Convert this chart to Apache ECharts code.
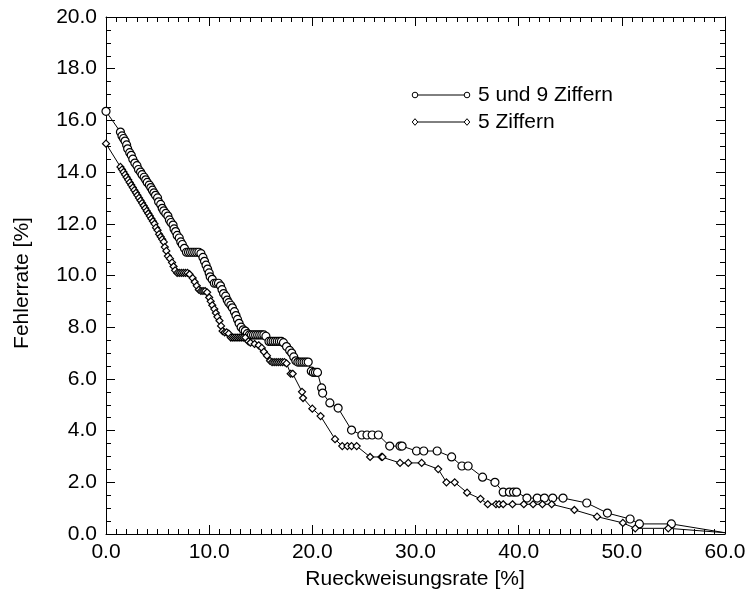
<!DOCTYPE html>
<html>
<head>
<meta charset="utf-8">
<script src="https://cdn.jsdelivr.net/npm/echarts@6/dist/echarts.min.js"></script>
<style>
  html, body { margin: 0; padding: 0; background: #fff; }
  #chart { width: 749px; height: 598px; }
</style>
</head>
<body>
<div id="chart"></div>
<script>
// Rejection rate (x, %) and error rate (y, %) for the two recognisers
const rejectA = [0.0, 1.4, 1.55, 1.7, 1.85, 2.0, 2.1, 2.3, 2.45, 2.6, 2.8, 3.0, 3.15, 3.35, 3.5, 3.7, 3.85, 4.0, 4.2, 4.35, 4.5, 4.65, 4.8, 5.0, 5.1, 5.3, 5.45, 5.6, 5.8, 6.0, 6.15, 6.3, 6.5, 6.6, 6.75, 6.9, 7.1, 7.25, 7.4, 7.6, 7.8, 8.0, 8.2, 8.4, 8.6, 8.8, 9.0, 9.2, 9.4, 9.55, 9.7, 9.85, 10.0, 10.1, 10.3, 10.5, 10.7, 10.9, 11.1, 11.25, 11.4, 11.6, 11.75, 11.9, 12.1, 12.25, 12.45, 12.6, 12.75, 12.9, 13.1, 13.3, 13.5, 13.7, 13.9, 14.1, 14.3, 14.5, 14.7, 14.9, 15.1, 15.3, 15.5, 15.8, 16.0, 16.2, 16.4, 16.6, 16.8, 17.0, 17.2, 17.5, 17.8, 18.0, 18.2, 18.4, 18.6, 18.8, 19.0, 19.2, 19.4, 19.6, 19.9, 20.1, 20.3, 20.5, 20.9, 21.0, 21.7, 22.5, 23.8, 24.8, 25.3, 25.8, 26.4, 27.5, 28.5, 28.7, 30.1, 30.8, 32.1, 33.5, 34.5, 35.1, 36.5, 37.7, 38.5, 39.1, 39.5, 39.8, 40.8, 41.8, 42.5, 43.3, 44.3, 46.6, 48.6, 50.8, 51.7, 54.8, 60.0];
const errorA  = [16.35, 15.55, 15.4, 15.3, 15.2, 15.05, 14.9, 14.75, 14.65, 14.5, 14.35, 14.25, 14.1, 14.0, 13.9, 13.8, 13.7, 13.6, 13.5, 13.4, 13.3, 13.2, 13.1, 13.0, 12.85, 12.75, 12.6, 12.5, 12.4, 12.3, 12.15, 12.05, 11.95, 11.8, 11.7, 11.55, 11.45, 11.3, 11.2, 11.05, 10.9, 10.9, 10.9, 10.9, 10.9, 10.9, 10.9, 10.85, 10.7, 10.55, 10.4, 10.25, 10.1, 9.95, 9.85, 9.7, 9.7, 9.7, 9.6, 9.45, 9.3, 9.2, 9.05, 8.95, 8.85, 8.75, 8.6, 8.45, 8.3, 8.15, 8.0, 7.9, 7.85, 7.75, 7.7, 7.7, 7.7, 7.7, 7.7, 7.7, 7.7, 7.7, 7.65, 7.45, 7.45, 7.45, 7.45, 7.45, 7.45, 7.45, 7.4, 7.25, 7.1, 7.0, 6.85, 6.7, 6.65, 6.65, 6.65, 6.65, 6.65, 6.65, 6.3, 6.25, 6.25, 6.25, 5.65, 5.45, 5.07, 4.87, 4.02, 3.83, 3.83, 3.83, 3.83, 3.4, 3.4, 3.4, 3.21, 3.21, 3.21, 2.98, 2.63, 2.63, 2.2, 2.0, 1.62, 1.62, 1.62, 1.62, 1.39, 1.39, 1.39, 1.39, 1.39, 1.2, 0.81, 0.58, 0.39, 0.39, 0.05];

const rejectB = [0.0, 1.4, 1.55, 1.7, 1.85, 2.0, 2.15, 2.3, 2.45, 2.6, 2.75, 2.9, 3.05, 3.2, 3.35, 3.5, 3.65, 3.8, 3.95, 4.1, 4.25, 4.4, 4.55, 4.7, 4.85, 5.0, 5.15, 5.3, 5.45, 5.6, 5.7, 5.85, 6.0, 6.2, 6.4, 6.55, 6.7, 6.9, 7.1, 7.3, 7.5, 7.7, 7.9, 8.1, 8.4, 8.6, 8.8, 9.0, 9.2, 9.4, 9.6, 9.8, 10.0, 10.15, 10.3, 10.5, 10.65, 10.8, 11.0, 11.15, 11.3, 11.5, 11.7, 11.9, 12.1, 12.3, 12.5, 12.7, 12.9, 13.1, 13.3, 13.5, 13.8, 14.0, 14.4, 14.8, 15.1, 15.3, 15.6, 15.9, 16.1, 16.3, 16.5, 16.7, 16.9, 17.1, 17.3, 17.5, 17.9, 18.1, 19.0, 19.1, 20.0, 20.8, 22.2, 22.9, 23.4, 23.8, 24.3, 25.6, 26.7, 26.8, 28.5, 29.3, 30.6, 32.2, 33.0, 33.8, 35.0, 36.3, 37.0, 37.8, 38.1, 38.5, 39.4, 40.5, 41.4, 42.3, 43.2, 45.4, 47.6, 50.1, 51.3, 54.5, 60.0];
const errorB  = [15.1, 14.2, 14.1, 14.0, 13.9, 13.8, 13.7, 13.6, 13.5, 13.4, 13.3, 13.2, 13.1, 13.0, 12.9, 12.8, 12.7, 12.6, 12.5, 12.4, 12.3, 12.2, 12.1, 12.0, 11.85, 11.75, 11.6, 11.5, 11.4, 11.3, 11.1, 10.95, 10.75, 10.65, 10.5, 10.35, 10.2, 10.1, 10.1, 10.1, 10.1, 10.1, 10.1, 10.05, 9.9, 9.75, 9.6, 9.45, 9.4, 9.4, 9.4, 9.35, 9.15, 9.0, 8.85, 8.7, 8.55, 8.4, 8.25, 8.05, 7.85, 7.8, 7.8, 7.75, 7.6, 7.6, 7.6, 7.6, 7.6, 7.6, 7.6, 7.6, 7.45, 7.4, 7.35, 7.3, 7.2, 7.05, 6.9, 6.7, 6.65, 6.65, 6.65, 6.65, 6.65, 6.65, 6.65, 6.6, 6.2, 6.2, 5.5, 5.26, 4.85, 4.56, 3.67, 3.4, 3.4, 3.4, 3.4, 2.98, 2.98, 2.98, 2.75, 2.75, 2.75, 2.51, 2.0, 2.0, 1.6, 1.36, 1.15, 1.15, 1.15, 1.15, 1.15, 1.15, 1.15, 1.15, 1.15, 0.93, 0.67, 0.43, 0.22, 0.22, 0.05];

const seriesNames = ['5 und 9 Ziffern', '5 Ziffern'];
const xTitle = 'Rueckweisungsrate [%]';
const yTitle = 'Fehlerrate [%]';

const FONT = '"Liberation Sans", Arial, Helvetica, sans-serif';

// Points become [x, y]; the closing point sits on the frame corner and carries no marker
function pairs(xs, ys) {
  return xs.map((x, i) => {
    if (i === xs.length - 1) return { value: [x, ys[i]], symbol: 'none' };
    return [x, ys[i]];
  });
}

const chart = echarts.init(document.getElementById('chart'), null, { renderer: 'canvas' });

const baseAxis = {
  type: 'value',
  axisLine: { show: true, onZero: false, lineStyle: { color: '#000', width: 1 } },
  axisTick: { show: true, inside: true, length: 9, lineStyle: { color: '#000', width: 1 } },
  minorTick: { show: true, length: 5, lineStyle: { color: '#000', width: 1 } },
  splitLine: { show: false },
  minorSplitLine: { show: false }
};

const xMain = Object.assign({}, baseAxis, {
  min: 0, max: 60, interval: 10, position: 'bottom',
  minorTick: Object.assign({}, baseAxis.minorTick, { splitNumber: 10 }),
  axisLabel: { show: true, margin: 8, color: '#000', fontSize: 21, fontFamily: FONT,
               formatter: v => v.toFixed(1) }
});
const xTop = Object.assign({}, xMain, { position: 'top', axisLabel: { show: false } });

const yMain = Object.assign({}, baseAxis, {
  min: 0, max: 20, interval: 2, position: 'left',
  minorTick: Object.assign({}, baseAxis.minorTick, { splitNumber: 4 }),
  axisLabel: { show: true, margin: 9, color: '#000', fontSize: 21, fontFamily: FONT,
               formatter: v => v.toFixed(1) }
});
const yRight = Object.assign({}, yMain, { position: 'right', axisLabel: { show: false } });

function lineSeries(name, data, symbol, size) {
  return {
    name, type: 'line', data,
    xAxisIndex: 0, yAxisIndex: 0,
    symbol, symbolSize: size, showAllSymbol: true,
    itemStyle: { color: '#fff', borderColor: '#000', borderWidth: 1.2 },
    lineStyle: { color: '#000', width: 1 },
    emphasis: { disabled: true },
    z: 3
  };
}

// Key drawn by hand: a short line with a marker at each end, then the label
const keyX0 = 415, keyX1 = 467, keyRows = [95, 122];
function diamondAt(cx, cy, w, h) {
  return [[cx, cy - h], [cx + w, cy], [cx, cy + h], [cx - w, cy]];
}
const keyGraphics = [];
keyRows.forEach((ky, i) => {
  keyGraphics.push({ type: 'line', shape: { x1: keyX0, y1: ky, x2: keyX1, y2: ky },
                     style: { stroke: '#000', lineWidth: 1 } });
  [keyX0, keyX1].forEach(cx => {
    if (i === 0) {
      keyGraphics.push({ type: 'circle', shape: { cx, cy: ky, r: 2.8 },
                         style: { fill: '#fff', stroke: '#000', lineWidth: 1 } });
    } else {
      keyGraphics.push({ type: 'polygon', shape: { points: diamondAt(cx, ky, 2.8, 3.3) },
                         style: { fill: '#fff', stroke: '#000', lineWidth: 1 } });
    }
  });
  keyGraphics.push({ type: 'text', x: 478, y: ky,
                     style: { text: seriesNames[i], fill: '#000', font: '21px ' + FONT,
                              verticalAlign: 'middle', align: 'left' } });
});

chart.setOption({
  animation: false,
  backgroundColor: '#fff',
  grid: { left: 106, right: 24, top: 17, bottom: 64, containLabel: false },
  xAxis: [xMain, xTop],
  yAxis: [yMain, yRight],
  series: [
    lineSeries(seriesNames[0], pairs(rejectA, errorA), 'circle', 8),
    lineSeries(seriesNames[1], pairs(rejectB, errorB), 'diamond', 7)
  ],
  graphic: keyGraphics.concat([
    { type: 'text', x: 415, y: 579,
      style: { text: xTitle, fill: '#000', font: '21px ' + FONT, align: 'center', verticalAlign: 'middle' } },
    { type: 'text', x: 22, y: 283, rotation: Math.PI / 2,
      style: { text: yTitle, fill: '#000', font: '21px ' + FONT, align: 'center', verticalAlign: 'middle' } }
  ])
});
</script>
</body>
</html>
